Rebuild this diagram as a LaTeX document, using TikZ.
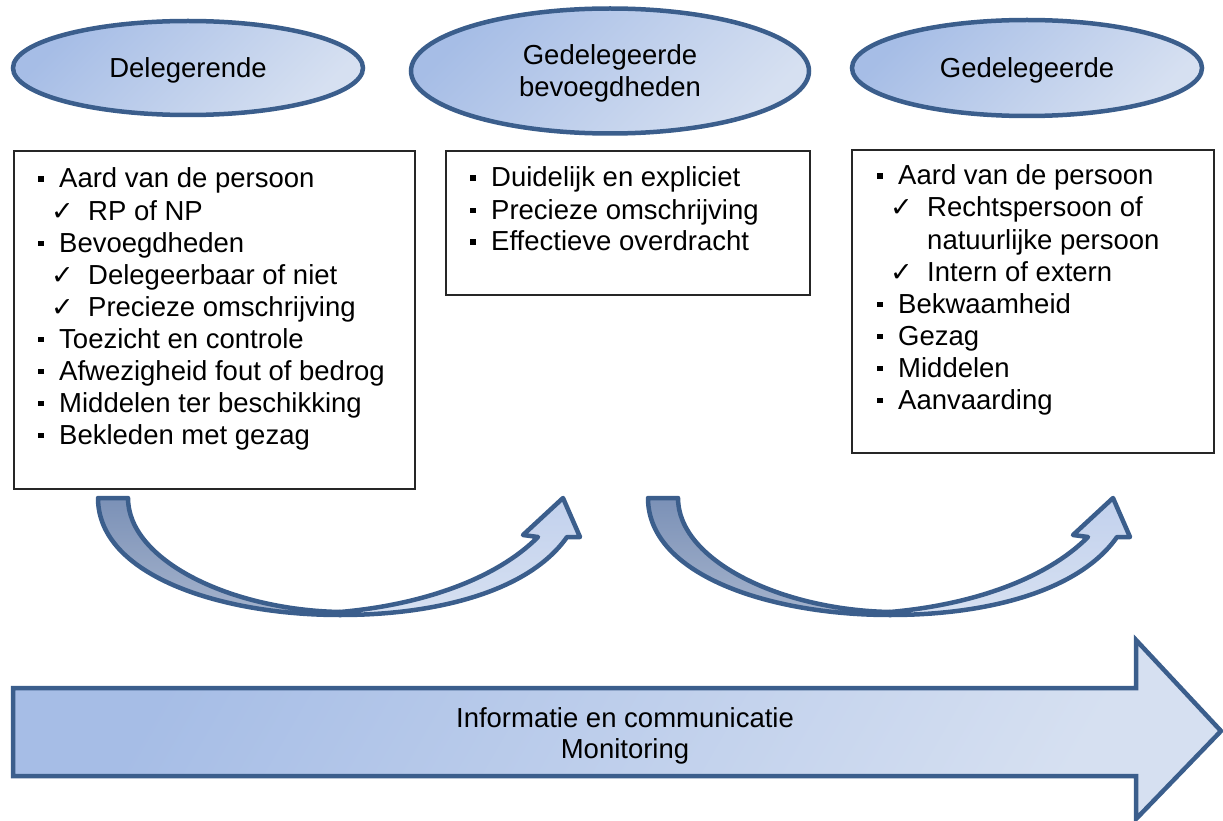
\documentclass[tikz,border=0pt]{standalone}
\usepackage{fontspec}
\setmainfont{Liberation Sans}
\newfontfamily\checkfont{DejaVu Sans}
\usetikzlibrary{shapes.geometric}
\definecolor{edgeblue}{HTML}{3B5E8C}
\definecolor{fillA}{HTML}{A6BDE6}
\definecolor{fillB}{HTML}{D6E0F1}
\definecolor{darkA}{HTML}{7B91B7}
\definecolor{darkB}{HTML}{A5B3CC}
\definecolor{lightA}{HTML}{C2D1ED}
\definecolor{lightB}{HTML}{D6E0F1}
\newcommand\mybul{\makebox[21pt][l]{\rule[6pt]{5.5pt}{5.5pt}}}
\newcommand\mychk{\hspace{13pt}\makebox[37pt][l]{{\checkfont\fontsize{27}{28}\selectfont ✓}}}
\tikzset{
  oval/.style={ellipse, draw=edgeblue, line width=4.5pt, top color=fillA, bottom color=fillB, shading angle=45,
    font=\fontsize{27.5}{32}\selectfont, text depth=0pt, align=center, inner sep=0pt},
  listbox/.style={rectangle, draw=black!85, line width=1.6pt, fill=white, anchor=north west, inner sep=0pt},
  itemtxt/.style={anchor=base west, inner sep=0pt, font=\fontsize{27.5}{32}\selectfont},
  bandstyle/.style={draw=edgeblue, line width=4.5pt, line join=round},
  bigarrow/.style={draw=edgeblue, line width=4.5pt, line join=miter, top color=fillA, bottom color=fillB, shading angle=60},
}
\begin{document}
\begin{tikzpicture}[x=1pt, y=-1pt]
\useasboundingbox (0,0) rectangle (1223,821);

% ellipses
\node[oval, minimum width=350, minimum height=94] (E1) at (188,68) {Delegerende};
\node[oval, minimum width=398, minimum height=125] (E2) at (610,71) {Gedelegeerde\\bevoegdheden};
\node[oval, minimum width=350, minimum height=96] (E3) at (1027,68) {Gedelegeerde};

% boxes
\node[listbox, minimum width=401, minimum height=338] (B1) at (13,150) {};
\node[listbox, minimum width=364, minimum height=144] (B2) at (445,150) {};
\node[listbox, minimum width=362, minimum height=303] (B3) at (851,149) {};

\foreach \t [count=\i] in {\mybul Aard van de persoon, \mychk RP of NP, \mybul Bevoegdheden,
  \mychk Delegeerbaar of niet, \mychk Precieze omschrijving, \mybul Toezicht en controle,
  \mybul Afwezigheid fout of bedrog, \mybul Middelen ter beschikking, \mybul Bekleden met gezag}
  \node[itemtxt] (La\i) at (38,{188+32*(\i-1)}) {\t};

\foreach \t [count=\i] in {\mybul Duidelijk en expliciet, \mybul Precieze omschrijving, \mybul Effectieve overdracht}
  \node[itemtxt] (Lb\i) at (470,{187+32*(\i-1)}) {\t};

\foreach \t [count=\i] in {\mybul Aard van de persoon, \mychk Rechtspersoon of, \hspace{50pt}natuurlijke persoon,
  \mychk Intern of extern, \mybul Bekwaamheid, \mybul Gezag, \mybul Middelen, \mybul Aanvaarding}
  \node[itemtxt] (Lc\i) at (877,{185+32*(\i-1)}) {\t};

% curved arrows
\foreach \dx in {0,550}{
\begin{scope}[shift={(\dx,0)}]
  \path[bandstyle, top color=darkA, bottom color=darkB]
    (98,498) -- (128,498) .. controls (128,560) and (230,610) .. (340,612)
    -- (340,615) .. controls (220,615) and (98,575) .. (98,498) -- cycle;
  \path[bandstyle, top color=lightA, bottom color=lightB]
    (340,615) .. controls (440,615) and (530,590) .. (567,537)
    -- (580,537) -- (563,498) -- (523,535) -- (538,537)
    .. controls (495,580) and (420,605) .. (340,612) -- cycle;
\end{scope}
}

% big arrow
\path[bigarrow] (13,688) -- (1136,688) -- (1136,640) -- (1221,731) -- (1136,819) -- (1136,776) -- (13,776) -- cycle;
\node[font=\fontsize{27.5}{31}\selectfont, align=center, text depth=0pt, inner sep=0pt] (T) at (625,733)
  {Informatie en communicatie\\Monitoring};
\end{tikzpicture}
\end{document}
